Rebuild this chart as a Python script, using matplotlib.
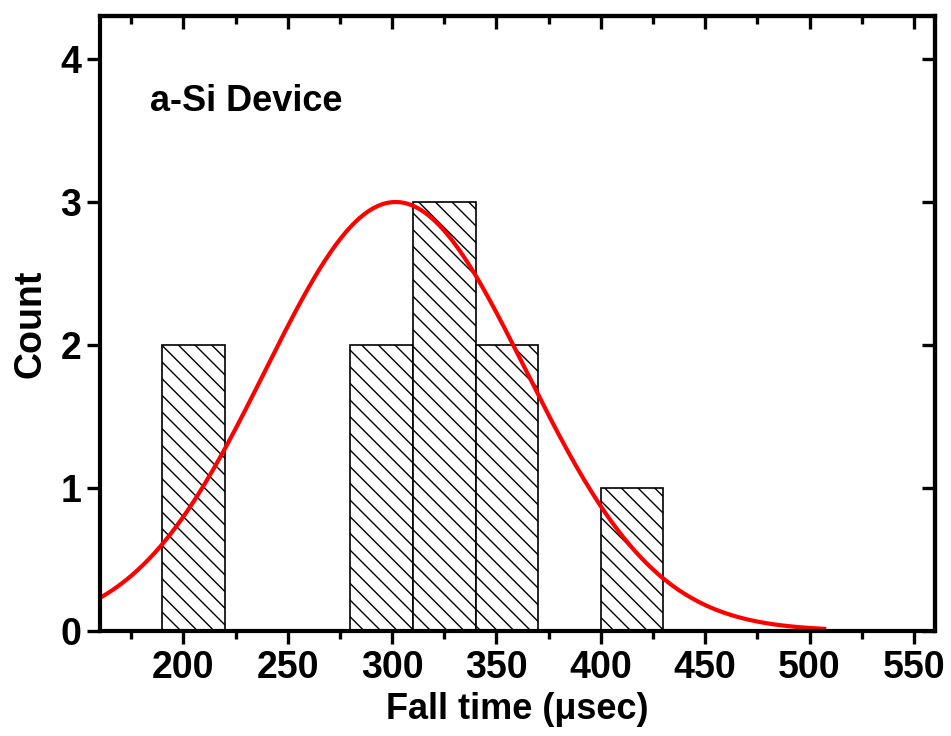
import numpy as np
import matplotlib
matplotlib.use("Agg")
import matplotlib.pyplot as plt

# histogram of fall times (bin left edges, width 30 usec)
bin_left = [190, 280, 310, 340, 400]
counts = [2, 2, 3, 2, 1]
bin_width = 30

# gaussian fit
fit_amp = 3.0
fit_center = 301.7
fit_sigma = 62.5
fit_range = (160, 507)

major_x = [200, 250, 300, 350, 400, 450, 500, 550]
minor_x = [175, 225, 275, 325, 375, 425, 475, 525]
major_y = [0, 1, 2, 3, 4]

plt.rcParams['font.family'] = ['Liberation Sans', 'DejaVu Sans']
plt.rcParams['font.weight'] = 'bold'
plt.rcParams['hatch.linewidth'] = 1.0

fig = plt.figure(figsize=(9.51, 7.36), dpi=100)
ax = fig.add_axes([0.105, 0.143, 0.878, 0.835])

ax.bar(bin_left, counts, width=bin_width, align='edge', color='white',
       edgecolor='black', linewidth=1.2, hatch='\\\\', zorder=2)

xs = np.linspace(fit_range[0], fit_range[1], 400)
ys = fit_amp * np.exp(-(xs - fit_center) ** 2 / (2 * fit_sigma ** 2))
ax.plot(xs, ys, color='red', linewidth=3.0, zorder=3)

ax.set_xlim(160, 560)
ax.set_ylim(0, 4.3)
ax.set_xticks(major_x)
ax.set_xticks(minor_x, minor=True)
ax.set_yticks(major_y)

for s in ax.spines.values():
    s.set_linewidth(3.0)
    s.set_zorder(5)

ax.tick_params(axis='both', which='major', direction='out', length=9.5, width=2.4,
               labelsize=27, pad=4)
ax.tick_params(axis='x', which='minor', direction='out', length=5.5, width=2.4)
# ticks on the top / right point inward
ax2 = ax.secondary_xaxis('top')
ax2.set_xticks(major_x)
ax2.set_xticks(minor_x, minor=True)
ax2.tick_params(which='major', direction='in', length=9.5, width=2.4, labeltop=False)
ax2.tick_params(which='minor', direction='in', length=5.5, width=2.4)
ax2.spines['top'].set_linewidth(3.0)
ax3 = ax.secondary_yaxis('right')
ax3.set_yticks(major_y)
ax3.tick_params(which='major', direction='in', length=9.5, width=2.4, labelright=False)
ax3.spines['right'].set_linewidth(3.0)

for lab in ax.get_xticklabels() + ax.get_yticklabels():
    lab.set_fontweight('bold')

ax.set_xlabel('Fall time (\u03bcsec)', fontsize=26, fontweight='bold', labelpad=5)
ax.set_ylabel('Count', fontsize=27, fontweight='bold', labelpad=8)

ax.text(184, 3.70, 'a-Si Device', fontsize=26, fontweight='bold', va='center')

fig.savefig('out.png', dpi=100)
